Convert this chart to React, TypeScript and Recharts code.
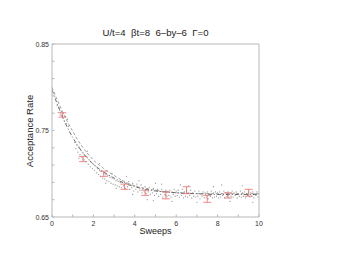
import React from 'react';
import { ComposedChart, XAxis, YAxis, Line, Scatter, ErrorBar } from 'recharts';

// ---- data ----
const title = 'U/t=4  \u03b2t=8  6\u2013by\u20136  \u0393=0';
const xLabel = 'Sweeps';
const yLabel = 'Acceptance Rate';

const xTicks = [0, 1, 2, 3, 4, 5, 6, 7, 8, 9, 10];
const xLabelled = [0, 2, 4, 6, 8, 10];
const yTicks = [0.65, 0.67, 0.69, 0.71, 0.73, 0.75, 0.77, 0.79, 0.81, 0.83, 0.85];
const yLabelled = [0.65, 0.75, 0.85];

const curveX = [0, 0.5, 1, 1.5, 2, 2.5, 3, 3.5, 4, 4.5, 5, 5.5, 6, 7, 8, 9, 10];
const curveA = [0.797, 0.766, 0.742, 0.724, 0.711, 0.702, 0.695, 0.689, 0.685, 0.682, 0.68, 0.679, 0.678, 0.677, 0.676, 0.676, 0.676];
const curveB = [0.8, 0.772, 0.749, 0.73, 0.716, 0.706, 0.698, 0.691, 0.686, 0.683, 0.681, 0.679, 0.678, 0.677, 0.677, 0.677, 0.677];

const errX = [0.5, 1.5, 2.5, 3.5, 4.5, 5.5, 6.5, 7.5, 8.5, 9.5];
const errY = [0.768, 0.717, 0.7, 0.685, 0.678, 0.675, 0.681, 0.671, 0.675, 0.678];
const errSize = [0.0025, 0.003, 0.003, 0.003, 0.003, 0.004, 0.004, 0.004, 0.003, 0.004];

const dotsX = [
  0.25, 0.3, 0.35, 0.4, 0.45, 0.5, 0.55, 0.6, 0.65, 0.7, 0.75, 0.8,
  1.1, 1.15, 1.2, 1.25, 1.3, 1.35, 1.4, 1.45, 1.5, 1.55, 1.6, 1.65, 1.7, 1.75, 1.8, 1.85, 1.9, 1.95, 2.0, 1.3, 1.7,
  2.05, 2.1, 2.15, 2.2, 2.25, 2.3, 2.35, 2.4, 2.45, 2.5, 2.55, 2.6, 2.65, 2.7, 2.75, 2.8, 2.85, 2.9, 2.95, 3.0, 3.05, 3.1, 3.15, 3.2, 3.25, 3.3, 2.3, 2.6, 2.9, 3.1,
  3.35, 3.4, 3.45, 3.5, 3.55, 3.6, 3.65, 3.7, 3.75, 3.8, 3.85, 3.9, 3.95, 4.0, 4.05, 4.1, 4.15, 4.2, 4.25, 4.3, 4.35, 4.4, 4.45, 4.5, 4.55, 4.6, 4.65, 4.7, 4.75, 4.8, 4.85, 4.9, 4.95,
  5.0, 5.05, 5.1, 5.15, 5.2, 5.25, 5.3, 5.35, 5.4, 5.45, 5.5, 5.55, 5.6, 5.65, 5.7, 5.75, 5.8, 5.85, 5.9, 5.95,
  6.0, 6.05, 6.1, 6.15, 6.2, 6.25, 6.3, 6.35, 6.4, 6.45, 6.5, 6.55, 6.6, 6.65, 6.7, 6.75, 6.8, 6.85, 6.9, 6.95,
  7.0, 7.05, 7.1, 7.15, 7.2, 7.25, 7.3, 7.35, 7.4, 7.45, 7.5, 7.55, 7.6, 7.65, 7.7, 7.75, 7.8, 7.85, 7.9, 7.95,
  8.0, 8.05, 8.1, 8.15, 8.2, 8.25, 8.3, 8.35, 8.4, 8.45, 8.5, 8.55, 8.6, 8.65, 8.7, 8.75, 8.8, 8.85, 8.9, 8.95,
  9.0, 9.05, 9.1, 9.15, 9.2, 9.25, 9.3, 9.35, 9.4, 9.45, 9.5, 9.55, 9.6, 9.65, 9.7, 9.75, 9.8, 9.85, 9.9, 9.95,
  3.6, 4.2, 4.9, 5.3, 5.8, 6.6, 7.0, 7.8, 8.6, 9.2, 9.7, 6.2, 5.0, 8.2, 3.9, 4.6,
];
const dotsY = [
  0.779, 0.771, 0.776, 0.768, 0.772, 0.765, 0.77, 0.761, 0.766, 0.758, 0.763, 0.755,
  0.736, 0.729, 0.733, 0.725, 0.731, 0.722, 0.727, 0.719, 0.724, 0.716, 0.721, 0.714, 0.719, 0.711, 0.716, 0.708, 0.713, 0.706, 0.711, 0.718, 0.726,
  0.704, 0.709, 0.701, 0.706, 0.699, 0.704, 0.697, 0.703, 0.695, 0.701, 0.694, 0.699, 0.692, 0.698, 0.691, 0.696, 0.689, 0.695, 0.688, 0.694, 0.687, 0.692, 0.686, 0.691, 0.685, 0.69, 0.712, 0.689, 0.7, 0.683,
  0.684, 0.692, 0.686, 0.69, 0.683, 0.689, 0.685, 0.691, 0.682, 0.687, 0.684, 0.689, 0.68, 0.686, 0.682, 0.688, 0.679, 0.684, 0.681, 0.687, 0.678, 0.683, 0.68, 0.685, 0.677, 0.683, 0.679, 0.684, 0.676, 0.681, 0.678, 0.683, 0.675,
  0.681, 0.677, 0.682, 0.674, 0.68, 0.676, 0.682, 0.673, 0.679, 0.676, 0.681, 0.674, 0.68, 0.675, 0.681, 0.673, 0.679, 0.676, 0.682, 0.674,
  0.68, 0.675, 0.681, 0.673, 0.678, 0.675, 0.682, 0.672, 0.679, 0.674, 0.68, 0.673, 0.678, 0.675, 0.681, 0.672, 0.678, 0.674, 0.68, 0.673,
  0.677, 0.674, 0.68, 0.671, 0.677, 0.674, 0.679, 0.672, 0.678, 0.673, 0.679, 0.671, 0.677, 0.674, 0.68, 0.672, 0.678, 0.673, 0.679, 0.674,
  0.678, 0.672, 0.679, 0.673, 0.677, 0.675, 0.68, 0.672, 0.678, 0.674, 0.679, 0.672, 0.677, 0.674, 0.68, 0.673, 0.678, 0.675, 0.679, 0.672,
  0.677, 0.674, 0.68, 0.673, 0.678, 0.674, 0.679, 0.672, 0.677, 0.675, 0.68, 0.673, 0.678, 0.674, 0.679, 0.672, 0.677, 0.675, 0.679, 0.673,
  0.697, 0.692, 0.669, 0.688, 0.668, 0.686, 0.667, 0.685, 0.668, 0.686, 0.667, 0.687, 0.689, 0.687, 0.676, 0.67,
];

// ---- derived tables ----
const curveAData = curveX.map((x, i) => ({ x, y: curveA[i] }));
const curveBData = curveX.map((x, i) => ({ x, y: curveB[i] }));
const errData = errX.map((x, i) => ({ x, y: errY[i], err: errSize[i] }));
const dotData = dotsX.map((x, i) => ({ x, y: dotsY[i] }));

const FONT = '"Liberation Sans", Arial, Helvetica, sans-serif';
const AXIS = '#b8b8b8';
const RED = '#f26a6a';

const W = 340;
const H = 263;
// plot area: x 52..259, y 44..217
const M = { top: 34, right: 71, bottom: 26, left: 22 };

const BottomTick = (p: any) => {
  const v = p.payload.value;
  const base = p.y - 2;
  return (
    <g>
      <line x1={p.x} x2={p.x} y1={base} y2={base - 2.5} stroke={AXIS} />
      {xLabelled.includes(v) && (
        <text x={p.x} y={p.y} dy={7} textAnchor="middle" fontSize={7} fill="#333" fontFamily={FONT}>
          {v}
        </text>
      )}
    </g>
  );
};

const TopTick = (p: any) => (
  <line x1={p.x} x2={p.x} y1={p.y} y2={p.y + 2.5} stroke={AXIS} />
);

const LeftTick = (p: any) => {
  const v = p.payload.value;
  const base = p.x + 3;
  const lab = yLabelled.some((t) => Math.abs(t - v) < 1e-6);
  return (
    <g>
      <line x1={base} x2={base + 2.5} y1={p.y} y2={p.y} stroke={AXIS} />
      {lab && (
        <text x={p.x} y={p.y} dy={2.5} textAnchor="end" fontSize={7} fill="#333" fontFamily={FONT}>
          {v.toFixed(2)}
        </text>
      )}
    </g>
  );
};

const RightTick = (p: any) => (
  <line x1={p.x} x2={p.x - 2.5} y1={p.y} y2={p.y} stroke={AXIS} />
);

const Dot = (p: any) => <circle cx={p.cx} cy={p.cy} r={0.65} fill="#9a9a9a" />;
const ErrMark = (p: any) => <circle cx={p.cx} cy={p.cy} r={0.6} fill={RED} />;

export default function App() {
  const plotL = M.left + 30;
  const plotR = W - M.right - 10;
  const plotT = M.top + 10;
  const plotB = H - M.bottom - 20;
  const plotCx = (plotL + plotR) / 2;
  const plotCy = (plotT + plotB) / 2;
  return (
    <div style={{ position: 'absolute', left: 0, top: 0, width: W, height: H, background: '#fff' }}>
      <ComposedChart width={W} height={H} margin={M}>
        <XAxis
          xAxisId="b"
          type="number"
          dataKey="x"
          domain={[0, 10]}
          ticks={xTicks}
          interval={0}
          allowDataOverflow
          height={20}
          tickSize={0}
          tickMargin={2}
          tickLine={false}
          axisLine={{ stroke: AXIS }}
          tick={<BottomTick />}
        />
        <XAxis
          xAxisId="t"
          orientation="top"
          type="number"
          dataKey="x"
          domain={[0, 10]}
          ticks={xTicks}
          interval={0}
          height={10}
          tickSize={0}
          tickMargin={0}
          tickLine={false}
          axisLine={{ stroke: AXIS }}
          tick={<TopTick />}
        />
        <YAxis
          yAxisId="l"
          type="number"
          dataKey="y"
          domain={[0.65, 0.85]}
          ticks={yTicks}
          interval={0}
          allowDataOverflow
          width={30}
          tickSize={0}
          tickMargin={3}
          tickLine={false}
          axisLine={{ stroke: AXIS }}
          tick={<LeftTick />}
        />
        <YAxis
          yAxisId="r"
          orientation="right"
          type="number"
          dataKey="y"
          domain={[0.65, 0.85]}
          ticks={yTicks}
          interval={0}
          width={10}
          tickSize={0}
          tickMargin={0}
          tickLine={false}
          axisLine={{ stroke: AXIS }}
          tick={<RightTick />}
        />
        <Scatter
          xAxisId="b"
          yAxisId="l"
          data={dotData}
          dataKey="y"
          shape={<Dot />}
          isAnimationActive={false}
        />
        <Line
          xAxisId="b"
          yAxisId="l"
          data={curveBData}
          dataKey="y"
          type="monotone"
          stroke="#8c8c8c"
          strokeWidth={0.8}
          strokeDasharray="3 2"
          dot={false}
          isAnimationActive={false}
        />
        <Line
          xAxisId="b"
          yAxisId="l"
          data={curveAData}
          dataKey="y"
          type="monotone"
          stroke="#444"
          strokeWidth={0.8}
          strokeDasharray="4 2 1 2"
          dot={false}
          isAnimationActive={false}
        />
        <Scatter
          xAxisId="b"
          yAxisId="l"
          data={errData}
          dataKey="y"
          shape={<ErrMark />}
          isAnimationActive={false}
        >
          <ErrorBar dataKey="err" direction="y" width={4} stroke={RED} strokeWidth={0.8} isAnimationActive={false} />
        </Scatter>
      </ComposedChart>
      <div
        style={{
          position: 'absolute',
          left: plotCx - 100,
          width: 200,
          top: 27,
          textAlign: 'center',
          fontFamily: FONT,
          fontSize: 9.6,
          lineHeight: '11px',
          color: '#222',
          whiteSpace: 'pre',
        }}
      >
        {title}
      </div>
      <div
        style={{
          position: 'absolute',
          left: plotCx - 50,
          width: 100,
          top: 225,
          textAlign: 'center',
          fontFamily: FONT,
          fontSize: 9,
          lineHeight: '12px',
          color: '#222',
        }}
      >
        {xLabel}
      </div>
      <div
        style={{
          position: 'absolute',
          left: 30 - 60,
          width: 120,
          top: plotCy - 6,
          textAlign: 'center',
          fontFamily: FONT,
          fontSize: 9.5,
          lineHeight: '12px',
          color: '#222',
          transform: 'rotate(-90deg)',
        }}
      >
        {yLabel}
      </div>
    </div>
  );
}
